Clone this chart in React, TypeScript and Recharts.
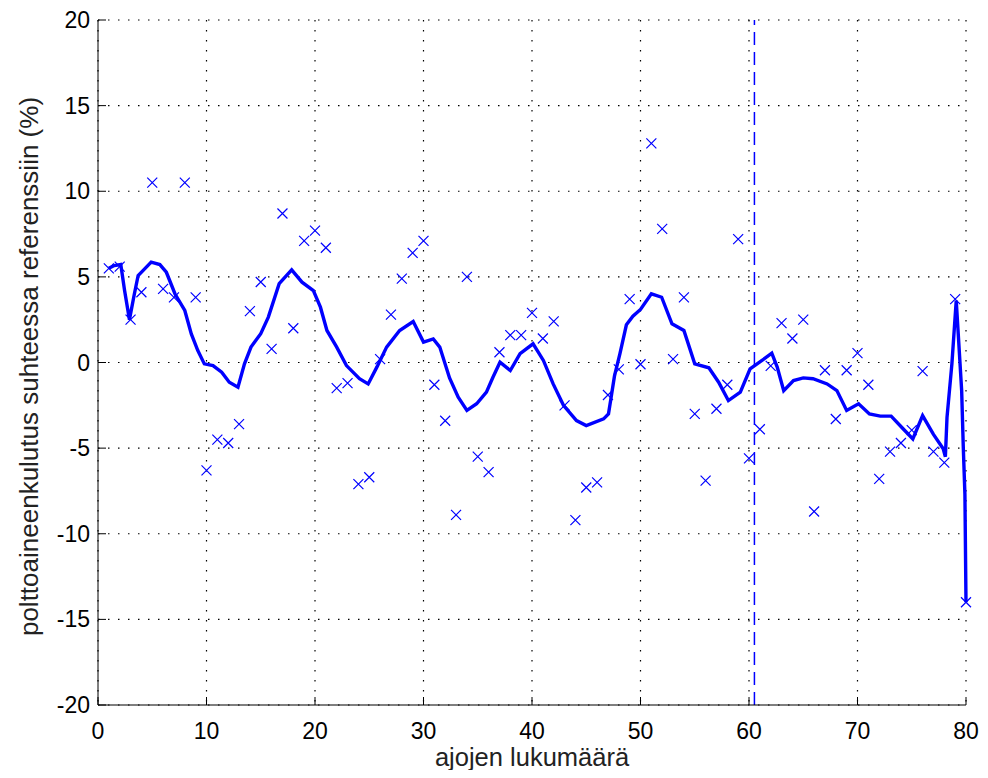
import React from "react";
import { ComposedChart, Line, Scatter, XAxis, YAxis, CartesianGrid, ReferenceLine } from "recharts";

const xTicks = [0, 10, 20, 30, 40, 50, 60, 70, 80];
const yTicks = [-20, -15, -10, -5, 0, 5, 10, 15, 20];

// one measured value per run (%)
const runs = Array.from({ length: 80 }, (_, i) => i + 1);
const measured = [
  5.5, 5.6, 2.5, 4.1, 10.5, 4.3, 3.8, 10.5, 3.8, -6.3,
  -4.5, -4.7, -3.6, 3.0, 4.7, 0.8, 8.7, 2.0, 7.1, 7.7,
  6.7, -1.5, -1.2, -7.1, -6.7, 0.2, 2.8, 4.9, 6.4, 7.1,
  -1.3, -3.4, -8.9, 5.0, -5.5, -6.4, 0.6, 1.6, 1.6, 2.9,
  1.4, 2.4, -2.5, -9.2, -7.3, -7.0, -1.9, -0.4, 3.7, -0.1,
  12.8, 7.8, 0.2, 3.8, -3.0, -6.9, -2.7, -1.3, 7.2, -5.6,
  -3.9, -0.2, 2.3, 1.4, 2.5, -8.7, -0.45, -3.3, -0.45, 0.55,
  -1.3, -6.8, -5.2, -4.7, -3.95, -0.5, -5.2, -5.85, 3.7, -14.0,
];

// smoothed curve
const trendX = [
  1.0, 1.5, 2.1, 2.45, 2.9, 3.35, 3.7, 4.3, 4.9, 5.7,
  6.3, 7.1, 8.0, 8.6, 9.2, 9.8, 10.6, 11.4, 12.1, 12.9,
  13.5, 14.1, 15.0, 15.7, 16.7, 17.85, 18.8, 19.85, 20.5, 21.1,
  22.0, 22.9, 24.1, 24.9, 25.7, 26.6, 27.8, 29.05, 30.0, 30.9,
  31.5, 32.4, 33.2, 34.0, 34.9, 35.8, 36.4, 37.05, 38.0, 38.9,
  40.1, 41.05, 41.95, 42.9, 44.1, 45.0, 46.6, 47.05, 47.25, 47.6,
  48.1, 48.7, 49.3, 50.0, 51.0, 51.95, 52.9, 54.0, 55.0, 56.3,
  57.2, 58.1, 59.2, 60.1, 61.2, 62.1, 62.6, 63.2, 64.1, 65.0,
  65.9, 67.2, 68.1, 69.0, 70.1, 71.1, 72.1, 73.1, 74.2, 75.1,
  76.0, 77.0, 77.9, 78.1, 78.25, 78.7, 79.1, 79.6, 79.75, 79.9,
  80.0,
];
const trendY = [
  5.5, 5.66, 5.72, 4.2, 2.5, 4.0, 5.08, 5.47, 5.86, 5.72,
  5.27, 4.0, 3.04, 1.67, 0.7, -0.08, -0.18, -0.57, -1.15, -1.44,
  -0.08, 0.9, 1.68, 2.65, 4.6, 5.41, 4.69, 4.2, 3.23, 1.87,
  0.9, -0.18, -0.95, -1.25, -0.27, 0.9, 1.87, 2.39, 1.19, 1.38,
  0.9, -0.9, -2.03, -2.8, -2.41, -1.73, -0.86, 0.02, -0.47, 0.51,
  1.09, 0.12, -1.25, -2.5, -3.39, -3.68, -3.29, -3.0, -2.2, -0.8,
  0.5, 2.2, 2.7, 3.1, 4.01, 3.81, 2.26, 1.87, -0.08, -0.31,
  -1.15, -2.22, -1.73, -0.37, 0.12, 0.54, -0.27, -1.64, -1.05, -0.9,
  -0.95, -1.25, -1.64, -2.8, -2.41, -3.0, -3.13, -3.13, -3.87, -4.46,
  -3.1, -4.2, -5.04, -5.5, -3.2, -0.08, 3.62, -1.64, -4.95, -7.7,
  -14.0,
];

const splitRun = 60.5;

const scatterData = runs.map((r, i) => ({ x: r, y: measured[i] }));
const lineData = trendX.map((x, i) => ({ x, y: trendY[i] }));

const font = "'Liberation Sans', Arial, Helvetica, sans-serif";
const blue = "#0000ff";
const TICK = 8;

function BottomTick({ x, y, payload }: any) {
  return (
    <g>
      <line x1={x} y1={y} x2={x} y2={y - TICK} stroke="#000" />
      <text x={x} y={y + 34} textAnchor="middle" fontSize={23} fontFamily={font} fill="#000">
        {payload.value}
      </text>
    </g>
  );
}

function TopTick({ x, y }: any) {
  return <line x1={x} y1={y} x2={x} y2={y + TICK} stroke="#000" />;
}

function LeftTick({ x, y, payload }: any) {
  return (
    <g>
      <line x1={x} y1={y} x2={x + TICK} y2={y} stroke="#000" />
      <text x={x - 8} y={y + 8} textAnchor="end" fontSize={23} fontFamily={font} fill="#000">
        {payload.value}
      </text>
    </g>
  );
}

function RightTick({ x, y }: any) {
  return <line x1={x} y1={y} x2={x - TICK} y2={y} stroke="#000" />;
}

function Cross({ cx, cy }: any) {
  const s = 5;
  return (
    <path
      d={`M${cx - s},${cy - s}L${cx + s},${cy + s}M${cx - s},${cy + s}L${cx + s},${cy - s}`}
      stroke={blue}
      strokeWidth={1.2}
      fill="none"
    />
  );
}

export default function App() {
  return (
    <div style={{ width: 972, height: 762 }}>
      <ComposedChart width={972} height={770} margin={{ top: 12, right: 14, bottom: 8, left: 0 }}>
        <CartesianGrid stroke="#000" strokeDasharray="1.5 8.5" strokeWidth={1.2} />
        <XAxis
          dataKey="x"
          type="number"
          domain={[0, 80]}
          ticks={xTicks}
          interval={0}
          height={65}
          tickSize={0}
          tickMargin={0}
          tick={<BottomTick />}
          axisLine={{ stroke: "#000" }}
          label={{
            content: ({ viewBox }: any) => (
              <text
                x={viewBox.x + viewBox.width / 2}
                y={viewBox.y + 61}
                textAnchor="middle"
                fontSize={25.5}
                fontFamily={font}
                fill="#222"
              >
                ajojen lukumäärä
              </text>
            ),
          }}
        />
        <XAxis
          xAxisId="top"
          orientation="top"
          type="number"
          domain={[0, 80]}
          ticks={xTicks}
          interval={0}
          height={0}
          tickSize={0}
          tickMargin={0}
          tick={<TopTick />}
          axisLine={{ stroke: "#000" }}
        />
        <YAxis
          type="number"
          domain={[-20, 20]}
          ticks={yTicks}
          interval={0}
          width={90}
          tickSize={0}
          tickMargin={0}
          tick={<LeftTick />}
          axisLine={{ stroke: "#000" }}
          label={{
            content: ({ viewBox }: any) => {
              const cx = viewBox.x + 30;
              const cy = viewBox.y + viewBox.height / 2 + 4;
              return (
                <text
                  x={cx}
                  y={cy}
                  transform={`rotate(-90 ${cx} ${cy})`}
                  textAnchor="middle"
                  fontSize={26}
                  fontFamily={font}
                  fill="#222"
                >
                  polttoaineenkulutus suhteessa referenssiin (%)
                </text>
              );
            },
          }}
        />
        <YAxis
          yAxisId="right"
          orientation="right"
          type="number"
          domain={[-20, 20]}
          ticks={yTicks}
          interval={0}
          width={0}
          tickSize={0}
          tickMargin={0}
          tick={<RightTick />}
          axisLine={{ stroke: "#000" }}
        />
        <ReferenceLine x={splitRun} stroke={blue} strokeWidth={1.5} strokeDasharray="13 7" />
        <Line
          data={lineData}
          dataKey="y"
          type="linear"
          stroke={blue}
          strokeWidth={3.4}
          dot={false}
          isAnimationActive={false}
        />
        <Scatter data={scatterData} dataKey="y" shape={<Cross />} isAnimationActive={false} />
      </ComposedChart>
    </div>
  );
}
